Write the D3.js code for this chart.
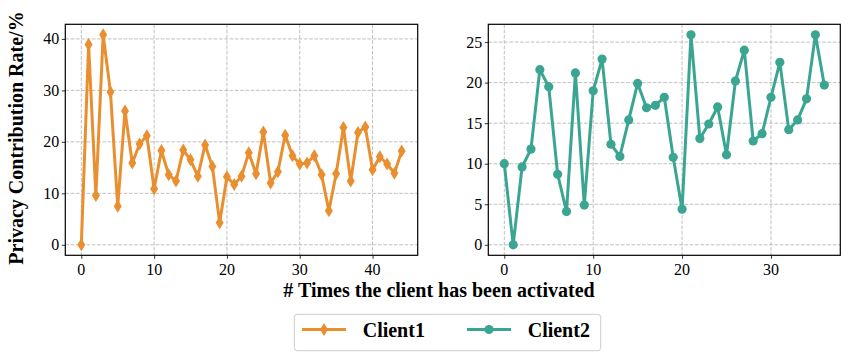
<!DOCTYPE html>
<html>
<head>
<meta charset="utf-8">
<script src="https://cdn.jsdelivr.net/npm/d3@7"></script>
<style>
  body { margin: 0; background: #fff; }
  svg text { font-family: "Liberation Serif", "Times New Roman", serif; }
</style>
</head>
<body>
<svg id="chart" width="850" height="360"></svg>
<script>
const client1 = [0, 38.9, 9.6, 40.8, 29.7, 7.5, 26.0, 15.9, 19.6, 21.2, 10.9, 18.3, 13.6, 12.4, 18.4,
    16.5, 13.3, 19.4, 15.2, 4.3, 13.2, 11.7, 13.3, 17.9, 13.8, 21.9, 12.0, 14.2, 21.3, 17.3,
    15.7, 15.9, 17.3, 13.6, 6.6, 13.8, 22.8, 12.4, 21.8, 22.9, 14.6, 17.1, 15.7, 13.9, 18.2];
const client2 = [10.0, 0, 9.6, 11.8, 21.6, 19.5, 8.7, 4.1, 21.2, 4.9, 19.0, 22.9, 12.4, 10.9, 15.4,
    19.9, 16.9, 17.2, 18.2, 10.8, 4.4, 25.9, 13.1, 14.9, 17.0, 11.1, 20.2, 24.0, 12.8, 13.7,
    18.2, 22.5, 14.2, 15.4, 18.0, 25.9, 19.7];
const xTicks1 = [0, 10, 20, 30, 40];
const yTicks1 = [0, 10, 20, 30, 40];
const xTicks2 = [0, 10, 20, 30];
const yTicks2 = [0, 5, 10, 15, 20, 25];
const seriesNames = ["Client1", "Client2"];

const orange = "#e98f2f";
const teal = "#3aa692";

const svg = d3.select("#chart");

// matplotlib style 5% margins
function padded(lo, hi) {
    const m = (hi - lo) * 0.05;
    return [lo - m, hi + m];
}

function panel(data, box, xTicks, yTicks, color, marker) {
    const x = d3.scaleLinear().domain(padded(0, data.length - 1)).range([box.x0, box.x1]);
    const y = d3.scaleLinear().domain(padded(0, d3.max(data))).range([box.y1, box.y0]);
    const g = svg.append("g");

    // grid
    g.append("g").selectAll("line").data(xTicks).join("line")
        .attr("x1", d => x(d)).attr("x2", d => x(d))
        .attr("y1", box.y0).attr("y2", box.y1)
        .attr("stroke", "#b0b0b0").attr("stroke-width", 0.8).attr("stroke-dasharray", "3.7,1.6");
    g.append("g").selectAll("line").data(yTicks).join("line")
        .attr("y1", d => y(d)).attr("y2", d => y(d))
        .attr("x1", box.x0).attr("x2", box.x1)
        .attr("stroke", "#b0b0b0").attr("stroke-width", 0.8).attr("stroke-dasharray", "3.7,1.6");

    // line
    const line = d3.line().x((d, i) => x(i)).y(d => y(d));
    g.append("path").datum(data)
        .attr("d", line)
        .attr("fill", "none")
        .attr("stroke", color)
        .attr("stroke-width", 3)
        .attr("stroke-linejoin", "round");

    // markers
    const pts = g.append("g").selectAll("g").data(data).join("g")
        .attr("transform", (d, i) => `translate(${x(i)},${y(d)})`);
    if (marker === "diamond") {
        pts.append("path").attr("d", "M0,-6.5L4,0L0,6.5L-4,0Z").attr("fill", color);
    } else {
        pts.append("circle").attr("r", 4.6).attr("fill", color);
    }

    // axes: tick marks from d3.axis, labels as plain text
    const xAxis = d3.axisBottom(x).tickValues(xTicks).tickSize(3.5).tickFormat("");
    const yAxis = d3.axisLeft(y).tickValues(yTicks).tickSize(3.5).tickFormat("");
    const ga = g.append("g").attr("transform", `translate(0,${box.y1})`).call(xAxis);
    const gb = g.append("g").attr("transform", `translate(${box.x0},0)`).call(yAxis);
    [ga, gb].forEach(a => {
        a.select(".domain").remove();
        a.selectAll("text").remove();
        a.selectAll("line").attr("stroke", "#000").attr("stroke-width", 0.8);
    });
    g.append("g").selectAll("text").data(xTicks).join("text")
        .attr("x", d => x(d)).attr("y", box.y1 + 20)
        .attr("text-anchor", "middle").attr("font-size", 16).attr("fill", "#000")
        .text(d => d);
    g.append("g").selectAll("text").data(yTicks).join("text")
        .attr("x", box.x0 - 6).attr("y", d => y(d)).attr("dy", "0.34em")
        .attr("text-anchor", "end").attr("font-size", 16).attr("fill", "#000")
        .text(d => d);

    g.append("rect")
        .attr("x", box.x0).attr("y", box.y0)
        .attr("width", box.x1 - box.x0).attr("height", box.y1 - box.y0)
        .attr("fill", "none").attr("stroke", "#000").attr("stroke-width", 1.2);
}

panel(client1, {x0: 65.3, x1: 417.7, y0: 24.3, y1: 255.3}, xTicks1, yTicks1, orange, "diamond");
panel(client2, {x0: 488.3, x1: 840.3, y0: 24.3, y1: 255.3}, xTicks2, yTicks2, teal, "circle");

// labels
svg.append("text")
    .attr("transform", "translate(23,138) rotate(-90)")
    .attr("text-anchor", "middle")
    .attr("font-weight", "bold").attr("font-size", 20)
    .text("Privacy Contribution Rate/%");

svg.append("text")
    .attr("x", 439).attr("y", 297)
    .attr("text-anchor", "middle")
    .attr("font-weight", "bold").attr("font-size", 20)
    .text("# Times the client has been activated");

// legend
const lg = svg.append("g");
lg.append("rect")
    .attr("x", 294.3).attr("y", 314.3).attr("width", 306.4).attr("height", 36.4)
    .attr("rx", 3).attr("fill", "#fff").attr("stroke", "#cccccc").attr("stroke-width", 1);
const items = lg.selectAll("g").data(seriesNames).join("g")
    .attr("transform", (d, i) => `translate(${i === 0 ? 302 : 467},329.5)`);
items.append("line").attr("x1", 0).attr("x2", 44)
    .attr("stroke", (d, i) => i === 0 ? orange : teal).attr("stroke-width", 3);
items.each(function (d, i) {
    const s = d3.select(this);
    if (i === 0) s.append("path").attr("d", "M22,-6.5L26,0L22,6.5L18,0Z").attr("fill", orange);
    else s.append("circle").attr("cx", 22).attr("r", 4.6).attr("fill", teal);
});
items.append("text").attr("x", 60.7).attr("dy", "0.35em")
    .attr("font-weight", "bold").attr("font-size", 20)
    .text(d => d);
</script>
</body>
</html>
